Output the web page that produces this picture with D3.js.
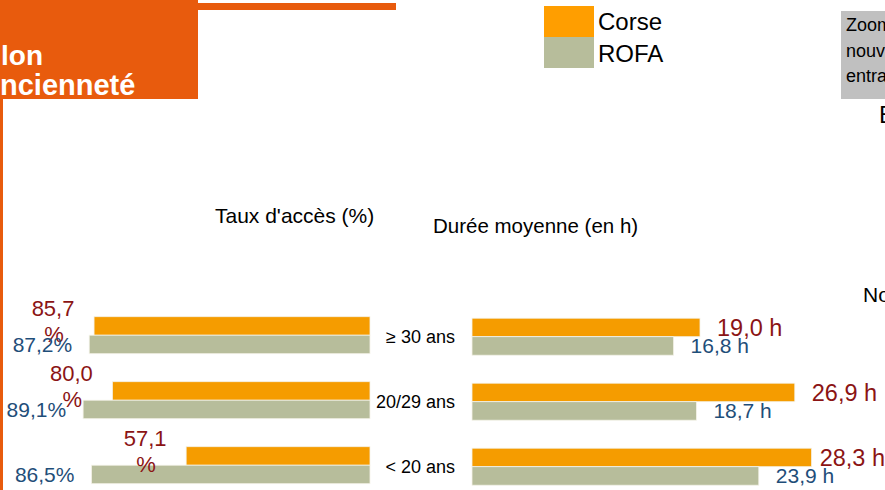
<!DOCTYPE html>
<html>
<head>
<meta charset="utf-8">
<script src="https://cdn.jsdelivr.net/npm/d3@7"></script>
<style>
    body { margin: 0; background: #fff; }
    svg { display: block; font-family: "Liberation Sans", Arial, sans-serif; }
</style>
</head>
<body>
<svg id="chart" width="885" height="490"></svg>
<script>
const categories = ["≥ 30 ans", "20/29 ans", "< 20 ans"];
const series = ["Corse", "ROFA"];
const tauxCorse = [85.7, 80.0, 57.1];
const tauxROFA = [87.2, 89.1, 86.5];
const dureeCorse = [19.0, 26.9, 28.3];
const dureeROFA = [16.8, 18.7, 23.9];

const colors = {Corse: "#F59C00", ROFA: "#B7BD9B"};
const labelColors = {Corse: "#8B1414", ROFA: "#1F4E79"};

const fr = d3.formatLocale({decimal: ",", thousands: " ", grouping: [3], currency: ["", "€"]});
const f1 = fr.format(".1f");

let svg = d3.select("#chart");

//slide decoration (title block, top stripe, left rule)
svg.append("rect").attr("x", 0).attr("y", 0).attr("width", 198).attr("height", 99).attr("fill", "#E85B0D");
svg.append("rect").attr("x", 198).attr("y", 3).attr("width", 198).attr("height", 7).attr("fill", "#E85B0D");
svg.append("rect").attr("x", 0).attr("y", 99).attr("width", 3).attr("height", 391).attr("fill", "#E85B0D");
svg.append("text").attr("x", 1).attr("y", 65).text("lon")
    .attr("fill", "#fff").attr("font-weight", "bold").attr("font-size", 28);
svg.append("text").attr("x", 0).attr("y", 95).text("ncienneté")
    .attr("fill", "#fff").attr("font-weight", "bold").attr("font-size", 29);

//grey note box, clipped by the frame
svg.append("rect").attr("x", 841).attr("y", 11).attr("width", 60).attr("height", 88).attr("fill", "#C0C0C0");
["Zoom", "nouv", "entra"].forEach((t, i) => {
    svg.append("text").attr("x", 846).attr("y", 31 + i * 25.5).text(t).attr("font-size", 18).attr("fill", "#000");
});
svg.append("text").attr("x", 879).attr("y", 123).text("E").attr("font-size", 24);
svg.append("text").attr("x", 863).attr("y", 302).text("No").attr("font-size", 21);

//legend
let legend = svg.append("g");
series.forEach((s, i) => {
    legend.append("rect").attr("x", 544).attr("y", 6 + i * 31).attr("width", 50).attr("height", 31).attr("fill", s === "Corse" ? "#FF9E00" : colors[s]);
    legend.append("text").attr("x", 598).attr("y", 30 + i * 32).text(s).attr("font-size", 24).attr("fill", "#000");
});

//chart titles
svg.append("text").attr("x", 215).attr("y", 223).text("Taux d'accès (%)").attr("font-size", 21);
svg.append("text").attr("x", 433).attr("y", 233).text("Durée moyenne (en h)").attr("font-size", 20.5);

//scales
let yLeft = d3.scaleBand().domain(categories).range([316.7, 483.7]).paddingInner(28 / 65).paddingOuter(0);
let yRight = d3.scaleBand().domain(categories).range([318.2, 485.2]).paddingInner(28 / 65).paddingOuter(0);
let ySub = d3.scaleBand().domain(series).range([0, yLeft.bandwidth()]);
let xLeft = d3.scaleLinear().domain([0, 100]).range([370, 48]);
let xRight = d3.scaleLinear().domain([0, 30]).range([472, 832]);

let rows = categories.map((c, i) => ({
    cat: c,
    taux: {Corse: tauxCorse[i], ROFA: tauxROFA[i]},
    duree: {Corse: dureeCorse[i], ROFA: dureeROFA[i]}
}));
let bars = rows.flatMap(r => series.map(s => ({cat: r.cat, s: s, taux: r.taux[s], duree: r.duree[s]})));

//left chart: bars grow leftwards from the category column
let left = svg.append("g");
left.selectAll(".bar").data(bars).join("rect")
    .attr("class", "bar")
    .attr("x", d => xLeft(d.taux))
    .attr("y", d => yLeft(d.cat) + ySub(d.s))
    .attr("width", d => xLeft(0) - xLeft(d.taux))
    .attr("height", ySub.bandwidth())
    .attr("fill", d => colors[d.s])
    .attr("stroke", "#F4F2E8").attr("stroke-width", 0.8);

//corse rate labels wrap onto two lines
left.selectAll(".lab-corse").data(bars.filter(d => d.s === "Corse")).join("text")
    .attr("class", "lab-corse")
    .attr("text-anchor", "middle")
    .attr("font-size", 22)
    .attr("fill", labelColors.Corse)
    .each(function(d) {
        let cx = xLeft(d.taux) - 41, top = yLeft(d.cat) + ySub(d.s);
        d3.select(this).append("tspan").attr("x", cx).attr("y", top - 1).text(f1(d.taux));
        d3.select(this).append("tspan").attr("x", cx + 1).attr("y", top + 25).text("%");
    });

left.selectAll(".lab-rofa").data(bars.filter(d => d.s === "ROFA")).join("text")
    .attr("class", "lab-rofa")
    .attr("text-anchor", "end")
    .attr("x", d => xLeft(d.taux) - 17)
    .attr("y", d => yLeft(d.cat) + ySub(d.s) + ySub.bandwidth() - 1.5)
    .attr("font-size", 21)
    .attr("fill", labelColors.ROFA)
    .text(d => f1(d.taux) + "%");

//category labels between the two charts
svg.selectAll(".cat").data(categories).join("text")
    .attr("class", "cat")
    .attr("text-anchor", "end")
    .attr("x", 455)
    .attr("y", d => yLeft(d) + yLeft.bandwidth() / 2 + 7.5)
    .attr("font-size", 18)
    .text(d => d);

//right chart: mean duration
let right = svg.append("g");
right.selectAll(".bar").data(bars).join("rect")
    .attr("class", "bar")
    .attr("x", xRight(0))
    .attr("y", d => yRight(d.cat) + ySub(d.s))
    .attr("width", d => xRight(d.duree) - xRight(0))
    .attr("height", ySub.bandwidth())
    .attr("fill", d => colors[d.s])
    .attr("stroke", "#F4F2E8").attr("stroke-width", 0.8);

right.selectAll(".lab").data(bars).join("text")
    .attr("class", "lab")
    .attr("y", d => yRight(d.cat) + ySub(d.s) + ySub.bandwidth() - (d.s === "Corse" ? 0.5 : 2))
    .attr("font-size", d => d.s === "Corse" ? 23.5 : 21)
    .attr("fill", d => labelColors[d.s])
    .text(d => f1(d.duree) + " h")
    .attr("x", function(d) {
        let w = this.getComputedTextLength();
        return Math.min(xRight(d.duree) + 17, 885 - w); //keep label inside the frame
    });
</script>
</body>
</html>
